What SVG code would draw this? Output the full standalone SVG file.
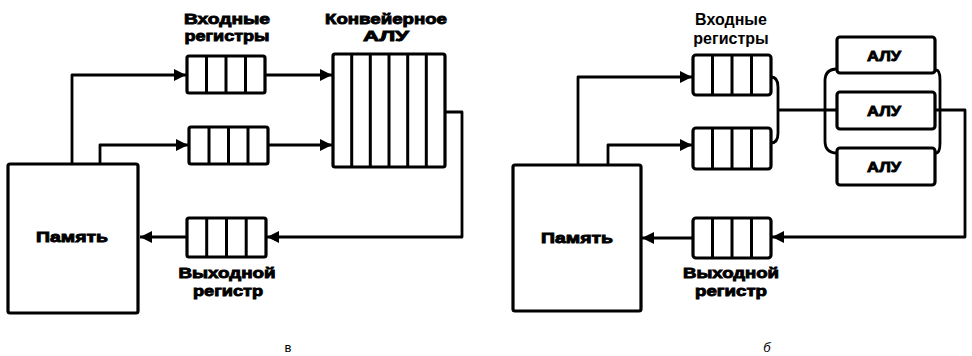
<svg xmlns="http://www.w3.org/2000/svg" width="972" height="356" viewBox="0 0 972 356">
<style>
.box{fill:#fff;stroke:#000;stroke-width:3.2;stroke-linejoin:round}
.div{stroke:#000;stroke-width:3}
.ln{fill:none;stroke:#000;stroke-width:2.8;stroke-linejoin:round}
.lbl{font-family:"Liberation Sans",Arial,sans-serif;font-weight:bold;fill:#000;text-anchor:middle}
.heavy{stroke:#000;stroke-width:0.9;paint-order:stroke}
.cap{font-family:"Liberation Sans",Arial,sans-serif;font-size:13px;fill:#000;text-anchor:middle}
</style>
<defs>
<marker id="ah" markerUnits="userSpaceOnUse" markerWidth="12" markerHeight="12" refX="12" refY="6" orient="auto">
<path d="M0,0 L12,6 L0,12 z" fill="#000"/>
</marker>
</defs>

<!-- Left diagram (в) -->
<g id="connectors-left">
<path class="ln" d="M72,164 V75 H186" marker-end="url(#ah)"/>
<path class="ln" d="M100,164 V145 H188" marker-end="url(#ah)"/>
<path class="ln" d="M265,75 H332" marker-end="url(#ah)"/>
<path class="ln" d="M268,145 H332" marker-end="url(#ah)"/>
<path class="ln" d="M445,112 H462 V237 H267" marker-end="url(#ah)"/>
<path class="ln" d="M187,237 H140" marker-end="url(#ah)"/>
</g>
<g id="mem-left">
<rect class="box" x="8" y="164" width="130" height="149" rx="2"/>
<text class="lbl heavy" x="72" y="242" font-size="15" textLength="72" lengthAdjust="spacingAndGlyphs">Память</text>
</g>
<g id="inreg1-left">
<rect class="box" x="187" y="56" width="78" height="37" rx="2"/>
<path class="div" d="M206.5,56 V93 M226,56 V93 M245.5,56 V93"/>
</g>
<g id="inreg2-left">
<rect class="box" x="189" y="127" width="79" height="37" rx="2"/>
<path class="div" d="M209,127 V164 M228.5,127 V164 M248,127 V164"/>
</g>
<g id="alu-pipe-left">
<rect class="box" x="333" y="54" width="112" height="113" rx="2"/>
<path class="div" d="M351.7,54 V167 M370.3,54 V167 M389,54 V167 M407.7,54 V167 M426.3,54 V167"/>
</g>
<g id="outreg-left">
<rect class="box" x="187" y="218" width="79" height="39" rx="2"/>
<path class="div" d="M206.7,218 V257 M226.5,218 V257 M246.2,218 V257"/>
</g>
<g id="labels-left">
<text class="lbl heavy" x="227" y="24" font-size="15" textLength="86" lengthAdjust="spacingAndGlyphs">Входные</text>
<text class="lbl heavy" x="227" y="41" font-size="15" textLength="85" lengthAdjust="spacingAndGlyphs">регистры</text>
<text class="lbl heavy" x="386" y="24" font-size="15" textLength="122" lengthAdjust="spacingAndGlyphs">Конвейерное</text>
<text class="lbl heavy" x="386" y="41" font-size="15" textLength="46" lengthAdjust="spacingAndGlyphs">АЛУ</text>
<text class="lbl heavy" x="227" y="278" font-size="15" textLength="97" lengthAdjust="spacingAndGlyphs">Выходной</text>
<text class="lbl heavy" x="228" y="296" font-size="15" textLength="70" lengthAdjust="spacingAndGlyphs">регистр</text>
<text class="cap" x="288" y="352" font-size="14">в</text>
</g>

<!-- Right diagram (б) -->
<g id="connectors-right">
<path class="ln" d="M578,165 V77 H692" marker-end="url(#ah)"/>
<path class="ln" d="M608,165 V145 H692" marker-end="url(#ah)"/>
<path class="ln" d="M771,77 Q778,77 778,87 V133 Q778,143 771,143"/>
<path class="ln" d="M778,110 H837"/>
<path class="ln" d="M837,69 Q825,69 825,81 V141 Q825,153 837,153"/>
<path class="ln" d="M936,70 Q940,70 940,80 V143 Q940,153 936,153"/>
<path class="ln" d="M936,110 H965 V237 H772" marker-end="url(#ah)"/>
<path class="ln" d="M693,238 H642" marker-end="url(#ah)"/>
</g>
<g id="mem-right">
<rect class="box" x="513" y="165" width="128" height="146" rx="2"/>
<text class="lbl heavy" x="577" y="243" font-size="15" textLength="72" lengthAdjust="spacingAndGlyphs">Память</text>
</g>
<g id="inreg1-right">
<rect class="box" x="693" y="55" width="78" height="40" rx="3"/>
<path class="div" d="M712.5,55 V95 M732,55 V95 M751.5,55 V95"/>
</g>
<g id="inreg2-right">
<rect class="box" x="693" y="128" width="78" height="41" rx="3"/>
<path class="div" d="M712.5,128 V169 M732,128 V169 M751.5,128 V169"/>
</g>
<g id="alu1-right">
<rect class="box" x="837" y="37" width="98" height="36" rx="3"/>
<text class="lbl heavy" x="884" y="61" font-size="15" textLength="34" lengthAdjust="spacingAndGlyphs">АЛУ</text>
</g>
<g id="alu2-right">
<rect class="box" x="837" y="92" width="98" height="37" rx="3"/>
<text class="lbl heavy" x="884" y="116" font-size="15" textLength="34" lengthAdjust="spacingAndGlyphs">АЛУ</text>
</g>
<g id="alu3-right">
<rect class="box" x="837" y="148" width="98" height="37" rx="3"/>
<text class="lbl heavy" x="884" y="172" font-size="15" textLength="34" lengthAdjust="spacingAndGlyphs">АЛУ</text>
</g>
<g id="outreg-right">
<rect class="box" x="693" y="218" width="78" height="40" rx="3"/>
<path class="div" d="M712.5,218 V258 M732,218 V258 M751.5,218 V258"/>
</g>
<g id="labels-right">
<text class="lbl" x="731" y="25" font-size="16">Входные</text>
<text class="lbl" x="731" y="44" font-size="16">регистры</text>
<text class="lbl heavy" x="731" y="278" font-size="15" textLength="96" lengthAdjust="spacingAndGlyphs">Выходной</text>
<text class="lbl heavy" x="731" y="296" font-size="15" textLength="72" lengthAdjust="spacingAndGlyphs">регистр</text>
<text class="cap" x="767" y="352" font-size="14" font-style="italic">б</text>
</g>
</svg>
